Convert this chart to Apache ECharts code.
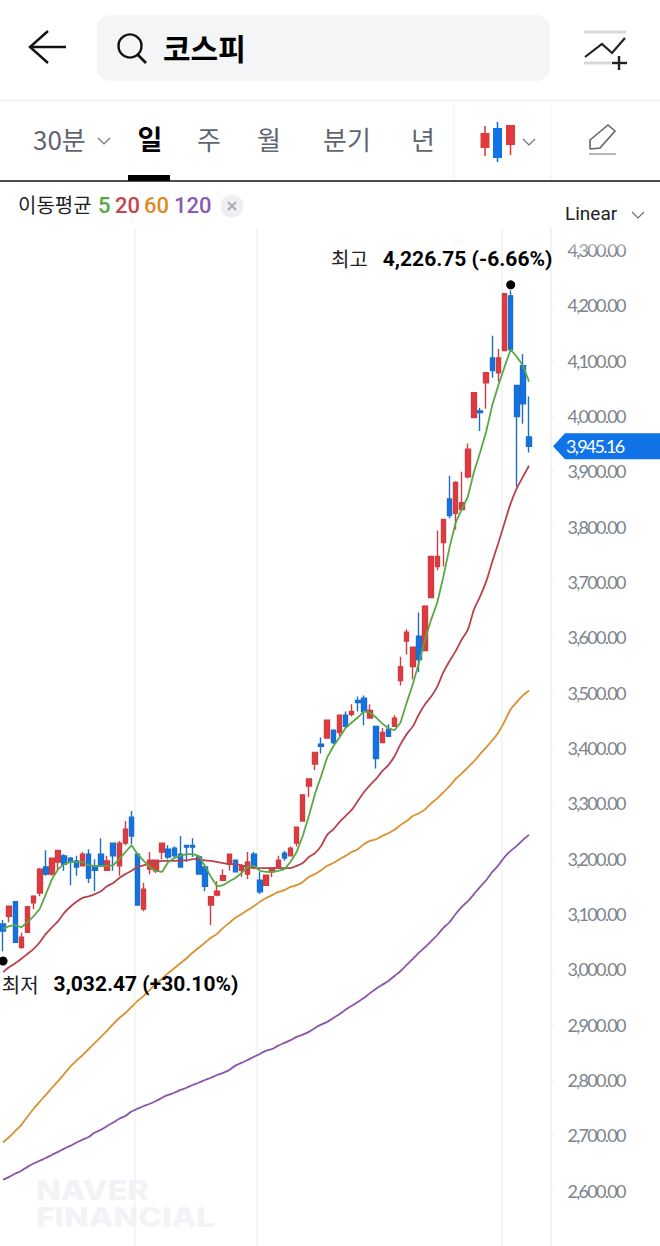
<!DOCTYPE html>
<html>
<head>
<meta charset="utf-8">
<style>
html, body { margin: 0; padding: 0; background: #fff; }
#chart { width: 660px; height: 1246px; overflow: hidden; }
/* 축 숫자는 자간이 좁다 */
#chart text[style*="Lato"] { letter-spacing: -1.7px; }
</style>
<script src="https://cdn.jsdelivr.net/npm/echarts@6/dist/echarts.min.js"></script>
</head>
<body>
<div id="chart"></div>
<script>
// 일봉 시가/종가/저가/고가
var opens = [3082,3096,3122,3040,3067,3120,3138,3185,3172,3194,
  3205,3201,3196,3187,3208,3185,3208,3179,3228,3187,
  3228,3275,3208,3109,3181,3178,3212,3217,3219,3208,
  3224,3224,3203,3185,3116,3134,3161,3190,3197,3179,
  3172,3208,3161,3152,3176,3185,3210,3205,3228,3268,
  3331,3371,3407,3418,3432,3428,3459,3461,3486,3490,
  3454,3439,3410,3434,3439,3522,3593,3547,3602,3576,
  3672,3728,3771,3850,3824,3831,3890,3997,4009,4060,
  4105,4078,4118,4217,4055,4091,3962];
var closes = [3069,3114,3049,3058,3113,3132,3181,3172,3201,3215,
  3190,3194,3185,3208,3165,3179,3187,3196,3205,3228,
  3253,3241,3116,3145,3197,3197,3228,3203,3205,3185,
  3221,3221,3172,3150,3131,3141,3169,3208,3176,3187,
  3194,3185,3140,3170,3183,3197,3201,3219,3257,3315,
  3344,3392,3403,3450,3410,3459,3439,3466,3482,3466,
  3468,3381,3428,3421,3454,3547,3609,3582,3560,3656,
  3746,3746,3813,3820,3880,3843,3940,4042,4006,4078,
  4082,4105,4221,4120,3999,4022,3945.16];
var lows = [3032.47,3085,3049,3037,3066,3109,3132,3169,3169,3181,
  3178,3152,3169,3187,3156,3141,3185,3179,3178,3169,
  3224,3226,3116,3105,3172,3174,3199,3199,3201,3185,
  3194,3203,3172,3141,3080,3132,3159,3178,3176,3167,
  3163,3183,3136,3152,3167,3185,3196,3205,3222,3268,
  3311,3360,3390,3418,3407,3421,3436,3457,3466,3441,
  3454,3363,3410,3421,3439,3513,3569,3524,3537,3576,
  3672,3721,3728,3815,3795,3831,3887,3997,3973,4013,
  4069,4062,4118,4120,3872,3986,3934];
var highs = [3089,3114,3122,3066,3114,3134,3183,3215,3201,3215,
  3208,3203,3205,3212,3217,3199,3237,3205,3228,3232,
  3268,3286,3208,3156,3212,3197,3228,3224,3222,3241,
  3224,3237,3203,3185,3132,3159,3181,3208,3197,3190,
  3212,3212,3176,3170,3183,3205,3214,3222,3257,3317,
  3344,3392,3419,3450,3432,3459,3466,3479,3493,3495,
  3479,3439,3436,3443,3459,3565,3614,3582,3645,3658,
  3746,3793,3813,3892,3882,3899,3950,4042,4015,4080,
  4145,4121,4221,4226.75,4055,4112,4035];

// 이동평균
var ma5 = [3073,3078,3080,3076,3085,3096,3109,3136,3163,3181,
  3190,3194,3194,3194,3188,3187,3187,3187,3188,3199,
  3212,3224,3208,3196,3185,3178,3176,3194,3201,3205,
  3208,3208,3205,3187,3167,3150,3152,3159,3165,3174,
  3185,3187,3178,3176,3176,3178,3181,3194,3212,3241,
  3277,3317,3349,3383,3403,3419,3436,3446,3455,3466,
  3464,3455,3444,3436,3432,3446,3482,3515,3554,3596,
  3632,3663,3710,3762,3807,3831,3854,3899,3934,3972,
  4020,4056,4089,4120,4107,4091,4062];
var ma20 = [2995,3004,3011,3019,3028,3037,3049,3064,3076,3087,
  3102,3113,3122,3129,3132,3136,3141,3150,3156,3165,
  3172,3178,3185,3188,3192,3194,3196,3196,3196,3197,
  3197,3199,3199,3197,3196,3194,3192,3190,3190,3188,
  3185,3183,3183,3183,3183,3183,3183,3183,3187,3192,
  3203,3210,3223,3243,3253,3266,3277,3288,3304,3320,
  3333,3344,3358,3369,3385,3407,3425,3439,3461,3479,
  3493,3511,3537,3557,3575,3596,3614,3650,3674,3701,
  3737,3771,3807,3842,3869,3890,3910];
var ma60 = [2687,2697,2708,2719,2734,2748,2761,2773,2786,2798,
  2811,2824,2835,2845,2856,2867,2878,2889,2901,2912,
  2921,2932,2943,2952,2963,2974,2983,2993,3002,3011,
  3020,3030,3039,3048,3057,3064,3075,3084,3093,3100,
  3107,3114,3122,3129,3134,3140,3143,3149,3152,3158,
  3167,3172,3179,3187,3192,3199,3205,3212,3217,3226,
  3232,3235,3241,3246,3252,3261,3268,3277,3282,3289,
  3300,3309,3320,3331,3344,3354,3365,3376,3389,3401,
  3414,3428,3448,3470,3483,3495,3504];
var ma120 = [2620,2625,2631,2636,2643,2649,2654,2659,2665,2670,
  2676,2681,2687,2692,2697,2705,2710,2717,2723,2730,
  2735,2743,2748,2753,2757,2762,2768,2773,2777,2782,
  2786,2791,2795,2800,2804,2809,2813,2818,2826,2831,
  2836,2842,2847,2853,2856,2862,2867,2872,2878,2882,
  2887,2894,2900,2905,2912,2919,2927,2934,2941,2948,
  2957,2965,2972,2979,2988,2997,3008,3019,3030,3040,
  3051,3062,3075,3085,3100,3113,3123,3136,3149,3161,
  3176,3188,3203,3214,3223,3234,3243];

var lastPrice = 3945.16;
var highMark = [83, 4237];  // 최고 점 (봉 위)
var lowMark = [0, 3015];    // 최저 점 (봉 아래)
var gridSlots = [22, 42, 82];  // 세로 격자 위치

var slots = [];
for (var i = 0; i < 90; i++) slots.push(i);  // 오른쪽 3칸은 빈칸

var candles = opens.map(function (o, i) {
  return [o, closes[i], lows[i], highs[i]];
});

var KR = '"Noto Sans CJK KR", sans-serif';

function text(x, y, s, size, color, weight, align, font) {
  return {
    type: 'text', z: 100, silent: true,
    style: {
      x: x, y: y, text: s, fontSize: size, fill: color,
      fontWeight: weight || 400, fontFamily: font || KR,
      align: align || 'left', verticalAlign: 'middle'
    }
  };
}
function line(x1, y1, x2, y2, color, w) {
  return { type: 'line', z: 100, silent: true,
    shape: { x1: x1, y1: y1, x2: x2, y2: y2 },
    style: { stroke: color, lineWidth: w || 1 } };
}
function poly(points, color, w) {
  return { type: 'polyline', z: 100, silent: true,
    shape: { points: points },
    style: { stroke: color, lineWidth: w || 1, fill: null } };
}
function rect(x, y, w, h, color, r) {
  return { type: 'rect', z: 100, silent: true,
    shape: { x: x, y: y, width: w, height: h, r: r || 0 },
    style: { fill: color } };
}
function chevron(x, y) {
  return poly([[x - 6, y - 3], [x, y + 3], [x + 6, y - 3]], '#6b7280', 1.2);
}
function watermark(y, s) {
  return { type: 'text', z: 0, silent: true, x: 36, y: y, scaleX: 1.24, scaleY: 1.06,
    style: { x: 0, y: 0, text: s, fontSize: 26, fontWeight: 800,
      fontFamily: 'Inter, sans-serif', fill: '#f1f3f6', verticalAlign: 'middle' } };
}

var header = [
  // 위쪽 검색줄
  poly([[48, 31], [30, 47], [48, 63]], '#111', 2.4),
  line(30, 47, 66, 47, '#111', 2.4),
  rect(97, 15, 453, 66, '#f3f5f7', 13),
  { type: 'circle', z: 100, silent: true, shape: { cx: 130, cy: 46, r: 11.5 },
    style: { stroke: '#111', lineWidth: 2.4, fill: null } },
  line(138, 55, 146, 63, '#111', 2.6),
  text(163, 47, '코스피', 30, '#000', 700),
  line(584, 32, 626, 32, '#d5d8dc', 3),
  line(584, 63, 611, 63, '#d5d8dc', 3),
  poly([[585, 57], [602, 44], [612, 53], [625, 38]], '#222', 2.2),
  line(612, 63, 627, 63, '#222', 2.4),
  line(619, 56, 619, 70, '#222', 2.4),
  line(0, 100.5, 660, 100.5, '#f1f2f4', 2),
  // 주기 탭
  text(33, 138, '30분', 26, '#5f6670', 400),
  chevron(104, 141),
  text(150, 138, '일', 27, '#000', 700, 'center'),
  text(209, 138, '주', 26, '#5f6670', 400, 'center'),
  text(269, 138, '월', 26, '#5f6670', 400, 'center'),
  text(347, 138, '분기', 26, '#5f6670', 400, 'center'),
  text(423, 138, '년', 26, '#5f6670', 400, 'center'),
  line(454, 101, 454, 180, '#eef2f4', 1),
  line(551, 101, 551, 180, '#eef2f4', 1),
  // 봉 아이콘
  line(485, 126, 485, 156, '#e03a3e', 1.6),
  rect(480.5, 133, 9, 15, '#e03a3e'),
  line(497.5, 122, 497.5, 162, '#1273e6', 1.6),
  rect(493, 128, 9, 30, '#1273e6'),
  line(510.5, 125, 510.5, 155, '#e03a3e', 1.6),
  rect(506, 125, 9, 20, '#e03a3e'),
  chevron(529, 142),
  // 연필
  poly([[590, 149], [590, 140], [608, 125], [615, 131], [600, 148], [590, 149]], '#5f6670', 1.6),
  line(589, 154, 616, 154, '#b4b8bc', 2),
  rect(128, 175, 42, 6, '#000'),
  line(0, 181, 660, 181, '#111', 1.5),
  // 이동평균 범례
  text(18, 204, '이동평균', 20, '#222', 400),
  text(98, 205, '5', 22, '#57a845', 500, 'left', 'Roboto, sans-serif'),
  text(115, 205, '20', 22, '#c8444a', 500, 'left', 'Roboto, sans-serif'),
  text(144, 205, '60', 22, '#de8a2a', 500, 'left', 'Roboto, sans-serif'),
  text(174, 205, '120', 22, '#8a5bb0', 500, 'left', 'Roboto, sans-serif'),
  { type: 'circle', z: 100, silent: true, shape: { cx: 232, cy: 206, r: 11.5 },
    style: { fill: '#eeeff1' } },
  line(228, 202, 236, 210, '#a9adb2', 2),
  line(236, 202, 228, 210, '#a9adb2', 2),
  // 축 위쪽 페이드
  { type: 'rect', z: 99, silent: true, shape: { x: 556, y: 232, width: 104, height: 20 },
    style: { fill: { type: 'linear', x: 0, y: 0, x2: 0, y2: 1, colorStops: [
      { offset: 0, color: 'rgba(255,255,255,1)' },
      { offset: 1, color: 'rgba(255,255,255,0)' } ] } } },
  text(565, 213, 'Linear', 19, '#222', 400, 'left', 'Roboto, sans-serif'),
  chevron(638, 215),
  // 워터마크
  watermark(1190, 'NAVER'),
  watermark(1217, 'FINANCIAL')
];

var myChart = echarts.init(document.getElementById('chart'), null, { renderer: 'svg', width: 660, height: 1246 });

var option = {
  animation: false,
  backgroundColor: '#fff',
  grid: { left: -0.36, width: 550.8, top: 227.8, height: 1019.6, containLabel: false },
  xAxis: {
    type: 'category',
    data: slots,
    boundaryGap: true,
    axisLine: { show: false },
    axisTick: { show: false },
    axisLabel: { show: false },
    splitLine: {
      show: true,
      interval: function (index) { return gridSlots.indexOf(index) >= 0; },
      lineStyle: { color: '#eef3f5', width: 1.5 }
    }
  },
  yAxis: {
    type: 'value',
    position: 'right',
    min: 2500,
    max: 4340,
    interval: 100,
    splitLine: { show: false },
    axisLine: { show: true, lineStyle: { color: '#eef3f5', width: 1.5 } },
    axisTick: { show: true, length: 4, lineStyle: { color: '#eef1f3' } },
    axisLabel: {
      margin: 17,
      showMinLabel: false,
      showMaxLabel: false,
      fontFamily: 'Lato, sans-serif',
      fontSize: 18,
      color: '#7d848a',
      formatter: function (v) {
        return v.toLocaleString('en-US', { minimumFractionDigits: 2, maximumFractionDigits: 2 });
      }
    }
  },
  series: [
    {
      type: 'candlestick',
      data: candles,
      barWidth: 5,
      itemStyle: {
        color: '#e03a3e', color0: '#1273e6',
        borderColor: '#d03c44', borderColor0: '#1a6dc8',
        borderWidth: 1.4
      }
    },
    { type: 'line', data: ma120, showSymbol: false, smooth: 0.3, lineStyle: { color: '#8a55a8', width: 1.8 }, z: 3 },
    { type: 'line', data: ma60, showSymbol: false, smooth: 0.3, lineStyle: { color: '#d9922f', width: 1.8 }, z: 3 },
    { type: 'line', data: ma20, showSymbol: false, smooth: 0.3, lineStyle: { color: '#b8434d', width: 1.8 }, z: 3 },
    { type: 'line', data: ma5, showSymbol: false, lineStyle: { color: '#58a845', width: 1.8 }, z: 3 },
    {
      type: 'scatter',
      symbolSize: 9,
      itemStyle: { color: '#000', opacity: 1 },
      z: 5,
      clip: false,
      data: [
        { value: highMark, label: { show: true, position: 'inside', offset: [-69, -26],
          formatter: '{a|최고}{b|4,226.75 (-6.66%)}' } },
        { value: lowMark, label: { show: true, position: 'inside', offset: [117, 23],
          formatter: '{a|최저}{b|3,032.47 (+30.10%)}' } }
      ],
      label: {
        rich: {
          a: { fontFamily: KR, fontSize: 20, color: '#222', padding: [0, 15, 0, 0] },
          b: { fontFamily: 'Roboto, sans-serif', fontSize: 21, fontWeight: 700, color: '#000' }
        }
      }
    }
  ],
  graphic: header
};
myChart.setOption(option);

// 현재가 태그는 축 스케일로 위치를 잡는다
var tagY = myChart.convertToPixel({ yAxisIndex: 0 }, lastPrice);
myChart.setOption({
  graphic: header.concat([
    { type: 'polygon', z: 100, silent: true,
      shape: { points: [[553, tagY], [565, tagY - 13], [660, tagY - 13], [660, tagY + 13], [565, tagY + 13]] },
      style: { fill: '#1173e8' } },
    text(566, tagY, lastPrice.toFixed(2).replace('3945', '3,945'), 18, '#fff', 400, 'left', 'Lato, sans-serif')
  ])
});
</script>
</body>
</html>
